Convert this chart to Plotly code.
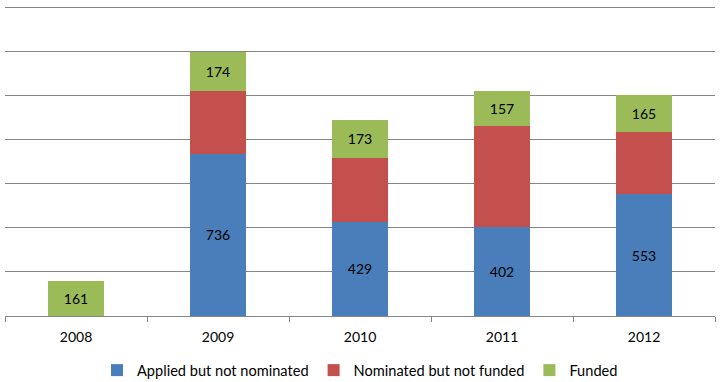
import plotly.graph_objects as go

years = ["2008", "2009", "2010", "2011", "2012"]
applied = [0, 736, 429, 402, 553]
nominated = [0, 287, 290, 462, 284]
funded = [161, 174, 173, 157, 165]

font_family = "Lato, 'Open Sans', sans-serif"

fig = go.Figure()
fig.add_trace(go.Bar(
    x=years, y=applied, name="Applied but not nominated",
    marker=dict(color="#4A7EBB", line=dict(width=0)),
    text=[str(v) if v else "" for v in applied],
    textposition="inside", insidetextanchor="middle",
    textfont=dict(color="black", size=14, family=font_family),
))
fig.add_trace(go.Bar(
    x=years, y=nominated, name="Nominated but not funded",
    marker=dict(color="#C4504D", line=dict(width=0)),
))
fig.add_trace(go.Bar(
    x=years, y=funded, name="Funded",
    marker=dict(color="#9BBB59", line=dict(width=0)),
    text=[str(v) for v in funded],
    textposition="inside", insidetextanchor="middle",
    textfont=dict(color="black", size=14, family=font_family),
))

fig.update_layout(
    barmode="stack",
    bargap=0.6,
    width=724, height=382,
    margin=dict(l=5, r=9, t=5, b=66, autoexpand=False),
    plot_bgcolor="white", paper_bgcolor="white",
    font=dict(family=font_family, size=14, color="black"),
    showlegend=True,
    legend=dict(orientation="h", x=0.5, xanchor="center", y=-0.174, yanchor="middle",
                font=dict(size=14.6), traceorder="normal"),
    uniformtext=dict(mode="show", minsize=8),
)
fig.update_xaxes(
    showline=True, linecolor="#868686", linewidth=1,
    ticks="outside", tickson="boundaries", ticklen=5, tickcolor="#868686",
    showgrid=False, tickfont=dict(size=14), automargin=False,
    ticklabelstandoff=8,
)
fig.update_yaxes(
    range=[0, 1412], dtick=200, showticklabels=False,
    showgrid=True, gridcolor="#868686", gridwidth=1, zeroline=False, automargin=False,
)

fig.write_html(
    "out.html",
    config={"displayModeBar": False},
    post_script="document.body.style.margin='0';document.body.style.overflow='hidden';",
)
